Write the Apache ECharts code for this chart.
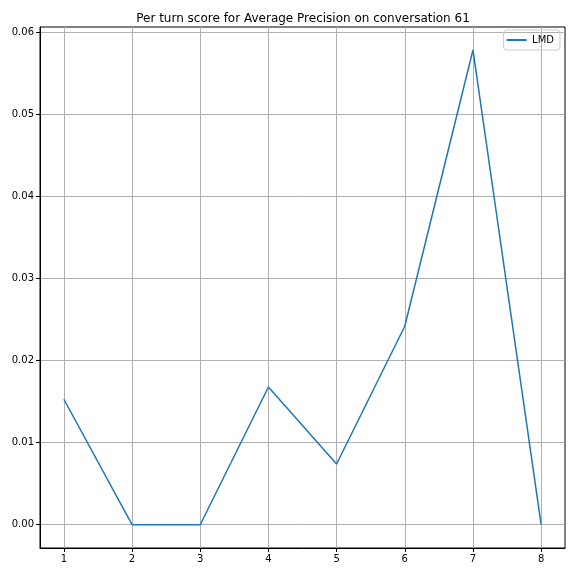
<!DOCTYPE html>
<html>
<head>
<meta charset="utf-8">
<script src="https://cdn.jsdelivr.net/npm/echarts@6/dist/echarts.min.js"></script>
<style>
  html, body { margin: 0; padding: 0; background: #fff; }
  #chart { width: 576px; height: 576px; }
</style>
</head>
<body>
<div id="chart"></div>
<script>
// turns on the x axis
const turns = [1, 2, 3, 4, 5, 6, 7, 8]
// per turn average precision for LMD
const lmdScores = [0.0153, 0.0, 0.0, 0.0168, 0.0074, 0.0242, 0.0579, 0.0]
const xTicks = [1, 2, 3, 4, 5, 6, 7, 8]
const yTicks = [0, 0.01, 0.02, 0.03, 0.04, 0.05, 0.06]

const chart = echarts.init(document.getElementById('chart'))
const font = 'DejaVu Sans'

chart.setOption({
  animation: false,
  title: {
    text: 'Per turn score for Average Precision on conversation 61',
    left: 298,
    textAlign: 'center',
    top: 8,
    textStyle: { fontFamily: font, fontSize: 12, fontWeight: 'normal', color: '#000' }
  },
  legend: {
    data: ['LMD'],
    right: 16,
    top: 30,
    orient: 'vertical',
    icon: 'path://M0,0 L20,0 L20,2 L0,2 Z',
    itemWidth: 21,
    itemHeight: 2,
    itemGap: 4,
    padding: [5, 6, 5, 3],
    borderColor: '#ccc',
    borderWidth: 1,
    borderRadius: 3,
    textStyle: { fontFamily: font, fontSize: 10, color: '#000' }
  },
  // grid border plays the part of the top / right spines
  grid: { left: 40, right: 11, top: 27, bottom: 28, show: true, borderColor: '#000', borderWidth: 1, backgroundColor: 'transparent' },
  xAxis: {
    type: 'value',
    min: 0.65,
    max: 8.35,
    axisLine: { onZero: false, lineStyle: { color: '#000', width: 1 } },
    axisTick: { show: true, length: 4, customValues: xTicks, lineStyle: { color: '#000' } },
    axisLabel: { customValues: xTicks, fontFamily: font, fontSize: 10, color: '#000', margin: 6 },
    splitLine: { show: true, lineStyle: { color: '#b0b0b0', width: 1 } }
  },
  yAxis: {
    type: 'value',
    min: -0.00284,
    max: 0.0607,
    axisLine: { show: true, lineStyle: { color: '#000', width: 1 } },
    axisTick: { show: true, length: 4, customValues: yTicks, lineStyle: { color: '#000' } },
    axisLabel: {
      customValues: yTicks,
      fontFamily: font, fontSize: 10, color: '#000', margin: 6,
      formatter: v => v.toFixed(2)
    },
    splitLine: { show: true, lineStyle: { color: '#b0b0b0', width: 1 } }
  },
  series: [
    {
      name: 'LMD',
      type: 'line',
      data: turns.map((t, i) => [t, lmdScores[i]]),
      showSymbol: false,
      symbol: 'none',
      color: '#1f77b4',
      lineStyle: { width: 1.5, color: '#1f77b4' }
    }
  ]
})
</script>
</body>
</html>
